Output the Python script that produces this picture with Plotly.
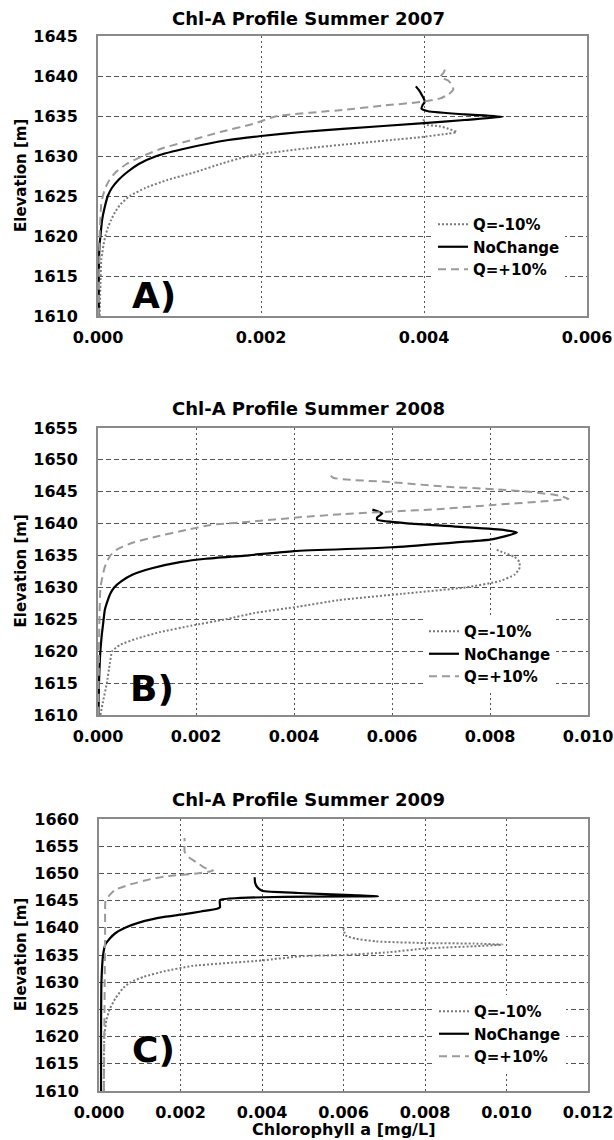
import plotly.graph_objects as go

# ---------------- DATA ----------------
titles = ["Chl-A Profile Summer 2007", "Chl-A Profile Summer 2008", "Chl-A Profile Summer 2009"]
panel_labels = ["A)", "B)", "C)"]
series_names = ["Q=-10%", "NoChange", "Q=+10%"]
x_axis_title = "Chlorophyll a [mg/L]"
y_axis_title = "Elevation [m]"
x_ranges = [[0, 0.006], [0, 0.010], [0, 0.012]]
y_ranges = [[1610, 1645], [1610, 1655], [1610, 1660]]

# Panel A (2007)
a_minus_elev = [1610, 1614, 1617, 1619, 1620, 1621, 1622, 1623, 1624, 1625, 1626, 1627, 1628, 1629, 1630,
                1631, 1632, 1632.4, 1632.8, 1633.0, 1633.4, 1633.7, 1634.0, 1634.8]
a_minus_chl = [0.00002, 0.00003, 0.00004, 0.00007, 0.00009, 0.00012, 0.00016, 0.00021, 0.00028, 0.00039,
               0.00058, 0.00085, 0.0012, 0.0015, 0.00185, 0.0026, 0.0036, 0.0040, 0.0043, 0.0044, 0.0043,
               0.0042, 0.0040, 0.0040]
a_none_elev = [1610, 1616, 1619, 1620, 1622, 1623.5, 1625, 1626, 1627, 1628, 1629, 1630, 1631, 1632, 1632.5,
               1633, 1633.4, 1634.1, 1634.5, 1634.9, 1635.2, 1635.6, 1635.9, 1636.3, 1636.8, 1637.5, 1638.2,
               1638.7]
a_none_chl = [0.00001, 0.00001, 0.00002, 0.00003, 0.00005, 0.00008, 0.00012, 0.00017, 0.00025, 0.00036,
              0.0005, 0.00072, 0.0011, 0.0016, 0.002, 0.0025, 0.003, 0.004, 0.0045, 0.00497, 0.0045, 0.00405,
              0.00397, 0.00398, 0.00401, 0.00398, 0.00394, 0.0039]
a_plus_elev = [1610, 1620, 1624, 1625, 1626, 1627, 1628, 1629, 1630, 1631, 1632, 1633, 1634, 1635, 1635.75,
               1636.3, 1636.8, 1637.2, 1637.7, 1638.3, 1638.9, 1639.4, 1639.9, 1640.4, 1640.9]
a_plus_chl = [0.00001, 0.00002, 0.00004, 0.00006, 0.00009, 0.00014, 0.00022, 0.00035, 0.00055, 0.0008,
              0.00115, 0.0015, 0.0019, 0.0022, 0.003, 0.0035, 0.004, 0.0042, 0.0043, 0.00436, 0.00434,
              0.0043, 0.0042, 0.00424, 0.00426]

# Panel B (2008)
b_minus_elev = [1610, 1612, 1615, 1618, 1620, 1621, 1622, 1623, 1624, 1625, 1626, 1627, 1628, 1629, 1630,
                1631, 1632, 1633, 1634, 1634.8, 1635.4, 1636]
b_minus_chl = [0.00005, 0.0001, 0.00018, 0.00024, 0.00029, 0.00045, 0.0008, 0.00127, 0.0019, 0.0026,
               0.0032, 0.0041, 0.0049, 0.0062, 0.0075, 0.0082, 0.0085, 0.0086, 0.0086, 0.0085, 0.0083, 0.0081]
b_none_elev = [1610, 1615, 1619, 1622, 1624, 1626.5, 1628, 1629, 1630, 1631, 1632, 1633, 1634, 1634.5, 1635,
               1635.7, 1636.3, 1637, 1637.5, 1638, 1638.6, 1639, 1639.5, 1640, 1640.6, 1641.0, 1641.6, 1642.2]
b_none_chl = [0.00001, 0.00002, 0.00004, 0.00007, 0.0001, 0.00014, 0.0002, 0.00025, 0.00033, 0.00048, 0.0007,
              0.0011, 0.0017, 0.0022, 0.003, 0.004, 0.006, 0.0072, 0.008, 0.0083, 0.00855, 0.0083, 0.0074,
              0.0064, 0.0057, 0.0057, 0.0058, 0.0056]
b_plus_elev = [1610, 1620, 1625, 1630, 1632, 1633, 1634, 1635, 1636, 1637, 1638, 1639, 1639.8, 1640.3, 1641,
               1641.5, 1641.9, 1642.3, 1642.9, 1643.5, 1643.9, 1644.4, 1645, 1645.4, 1645.8, 1646.5, 1647.2,
               1648]
b_plus_chl = [0.00001, 0.00002, 0.00003, 0.00005, 0.0001, 0.00013, 0.00018, 0.00025, 0.0004, 0.0007, 0.0012,
              0.0018, 0.0023, 0.0031, 0.0041, 0.0050, 0.006, 0.007, 0.008, 0.0091, 0.0096, 0.0094, 0.0088,
              0.0081, 0.0071, 0.006, 0.0048, 0.0047]

# Panel C (2009)
c_minus_elev = [1610, 1615, 1620, 1623, 1625, 1627, 1629, 1630, 1631, 1632, 1633, 1634, 1634.8, 1635,
                1635.5, 1636.2, 1636.6, 1636.9, 1637.1, 1637.2, 1637.5, 1638, 1638.6, 1640]
c_minus_chl = [0.00012, 0.00012, 0.00013, 0.00018, 0.00026, 0.0004, 0.0006, 0.00078, 0.0011, 0.0016,
               0.0023, 0.0040, 0.0050, 0.0060, 0.0071, 0.008, 0.0092, 0.0099, 0.0092, 0.008, 0.0068, 0.0063,
               0.00605, 0.006]
c_none_elev = [1610, 1620, 1630, 1635, 1637, 1638, 1639, 1640, 1641, 1642, 1642.5, 1643, 1643.5, 1643.8,
               1645.1, 1645.8, 1646.0, 1646.4, 1646.8, 1647.5, 1648.3, 1649.3]
c_none_chl = [0.00005, 0.00005, 0.00006, 0.0001, 0.00016, 0.00026, 0.0004, 0.00064, 0.001, 0.0016, 0.0021,
              0.0025, 0.0029, 0.00297, 0.00297, 0.00685, 0.0062, 0.0049, 0.0040, 0.00388, 0.00383, 0.00382]
c_plus_elev = [1610, 1620, 1630, 1640, 1644, 1645, 1646, 1647, 1648, 1649, 1649.5, 1650, 1650.5, 1651, 1652,
               1653, 1654, 1655, 1656.5]
c_plus_chl = [0.00012, 0.00013, 0.00014, 0.00015, 0.00015, 0.00016, 0.00026, 0.0004, 0.00078, 0.0013,
              0.0017, 0.0024, 0.0028, 0.0026, 0.0024, 0.0022, 0.0021, 0.0021, 0.0021]

panel_data = [
    [(a_minus_chl, a_minus_elev), (a_none_chl, a_none_elev), (a_plus_chl, a_plus_elev)],
    [(b_minus_chl, b_minus_elev), (b_none_chl, b_none_elev), (b_plus_chl, b_plus_elev)],
    [(c_minus_chl, c_minus_elev), (c_none_chl, c_none_elev), (c_plus_chl, c_plus_elev)],
]

# ---------------- LAYOUT (pixels) ----------------
W, H = 614, 1140
FONT = "DejaVu Sans"
# plot boxes: left, right, top, bottom in px
boxes = [(98, 587, 36, 316), (98, 588, 428, 715), (99, 588, 819, 1091)]
title_y = [18, 408, 799]
label_pos = [(154, 295), (152, 688), (153, 1049)]
legend_pos = [(433, 208), (424, 615), (434, 995)]

styles = [
    dict(color="#7a7a7a", width=2, dash="2px,2px"),
    dict(color="#000000", width=2.2, dash="solid"),
    dict(color="#9a9a9a", width=2, dash="8px,5px"),
]

def fx(px):
    return px / W

def fy(py):
    return 1 - py / H

fig = go.Figure()
layout = dict(
    width=W, height=H,
    margin=dict(l=0, r=0, t=0, b=0, autoexpand=False),
    paper_bgcolor="white", plot_bgcolor="white",
    font=dict(family=FONT, color="black"),
    annotations=[],
)

for i in range(3):
    sfx = "" if i == 0 else str(i + 1)
    l, r, t, b = boxes[i]
    for k in range(3):
        xs, ys = panel_data[i][k]
        fig.add_trace(go.Scatter(
            x=xs, y=ys, mode="lines", name=series_names[k],
            line=dict(shape="spline", smoothing=0.5, **styles[k]),
            xaxis="x" + sfx, yaxis="y" + sfx,
            legend="legend" + sfx, showlegend=True,
        ))
    layout["xaxis" + sfx] = dict(
        domain=[fx(l), fx(r)], anchor="y" + sfx, range=x_ranges[i], dtick=0.002, tick0=0,
        tickformat=".3f", showgrid=True, gridcolor="#555555", griddash="2px,3px", gridwidth=1.2,
        showline=True, linecolor="#8a8a8a", linewidth=2, mirror=True, zeroline=False,
        ticks="", ticklabelstandoff=6, automargin=False,
        tickfont=dict(family=FONT, size=16, weight="bold", color="black"),
    )
    layout["yaxis" + sfx] = dict(
        domain=[fy(b), fy(t)], anchor="x" + sfx, range=y_ranges[i], dtick=5, tick0=1610,
        showgrid=True, gridcolor="#555555", griddash="5px,3px", gridwidth=1.2,
        showline=True, linecolor="#8a8a8a", linewidth=2, mirror=True, zeroline=False,
        ticks="", ticklabelstandoff=15, automargin=False,
        tickfont=dict(family=FONT, size=16, weight="bold", color="black"),
    )
    lx, ly = legend_pos[i]
    layout["legend" + sfx] = dict(
        x=fx(lx), y=fy(ly), xanchor="left", yanchor="top", xref="paper", yref="paper",
        bgcolor="white", borderwidth=0, tracegroupgap=0,
        font=dict(family=FONT, size=15, weight="bold", color="black"),
    )
    layout["annotations"].append(dict(
        text=titles[i], x=fx(308), y=fy(title_y[i]), xref="paper", yref="paper",
        showarrow=False, xanchor="center", yanchor="middle",
        font=dict(family=FONT, size=18, weight="bold", color="black"),
    ))
    layout["annotations"].append(dict(
        text=y_axis_title, x=fx(21), y=fy((t + b) / 2), xref="paper", yref="paper",
        showarrow=False, xanchor="center", yanchor="middle", textangle=-90,
        font=dict(family=FONT, size=15, weight="bold", color="black"),
    ))
    px_, py_ = label_pos[i]
    layout["annotations"].append(dict(
        text=panel_labels[i], x=fx(px_), y=fy(py_), xref="paper", yref="paper",
        showarrow=False, xanchor="center", yanchor="middle",
        font=dict(family=FONT, size=36, weight="bold", color="black"),
    ))

layout["annotations"].append(dict(
    text=x_axis_title, x=fx(343), y=fy(1129), xref="paper", yref="paper",
    showarrow=False, xanchor="center", yanchor="middle",
    font=dict(family=FONT, size=16, weight="bold", color="black"),
))

fig.update_layout(**layout)
fig.write_html(
    "out.html",
    config={"displayModeBar": False},
    post_script="document.body.style.margin='0';document.body.style.padding='0';"
                "document.documentElement.style.overflow='hidden';",
)
